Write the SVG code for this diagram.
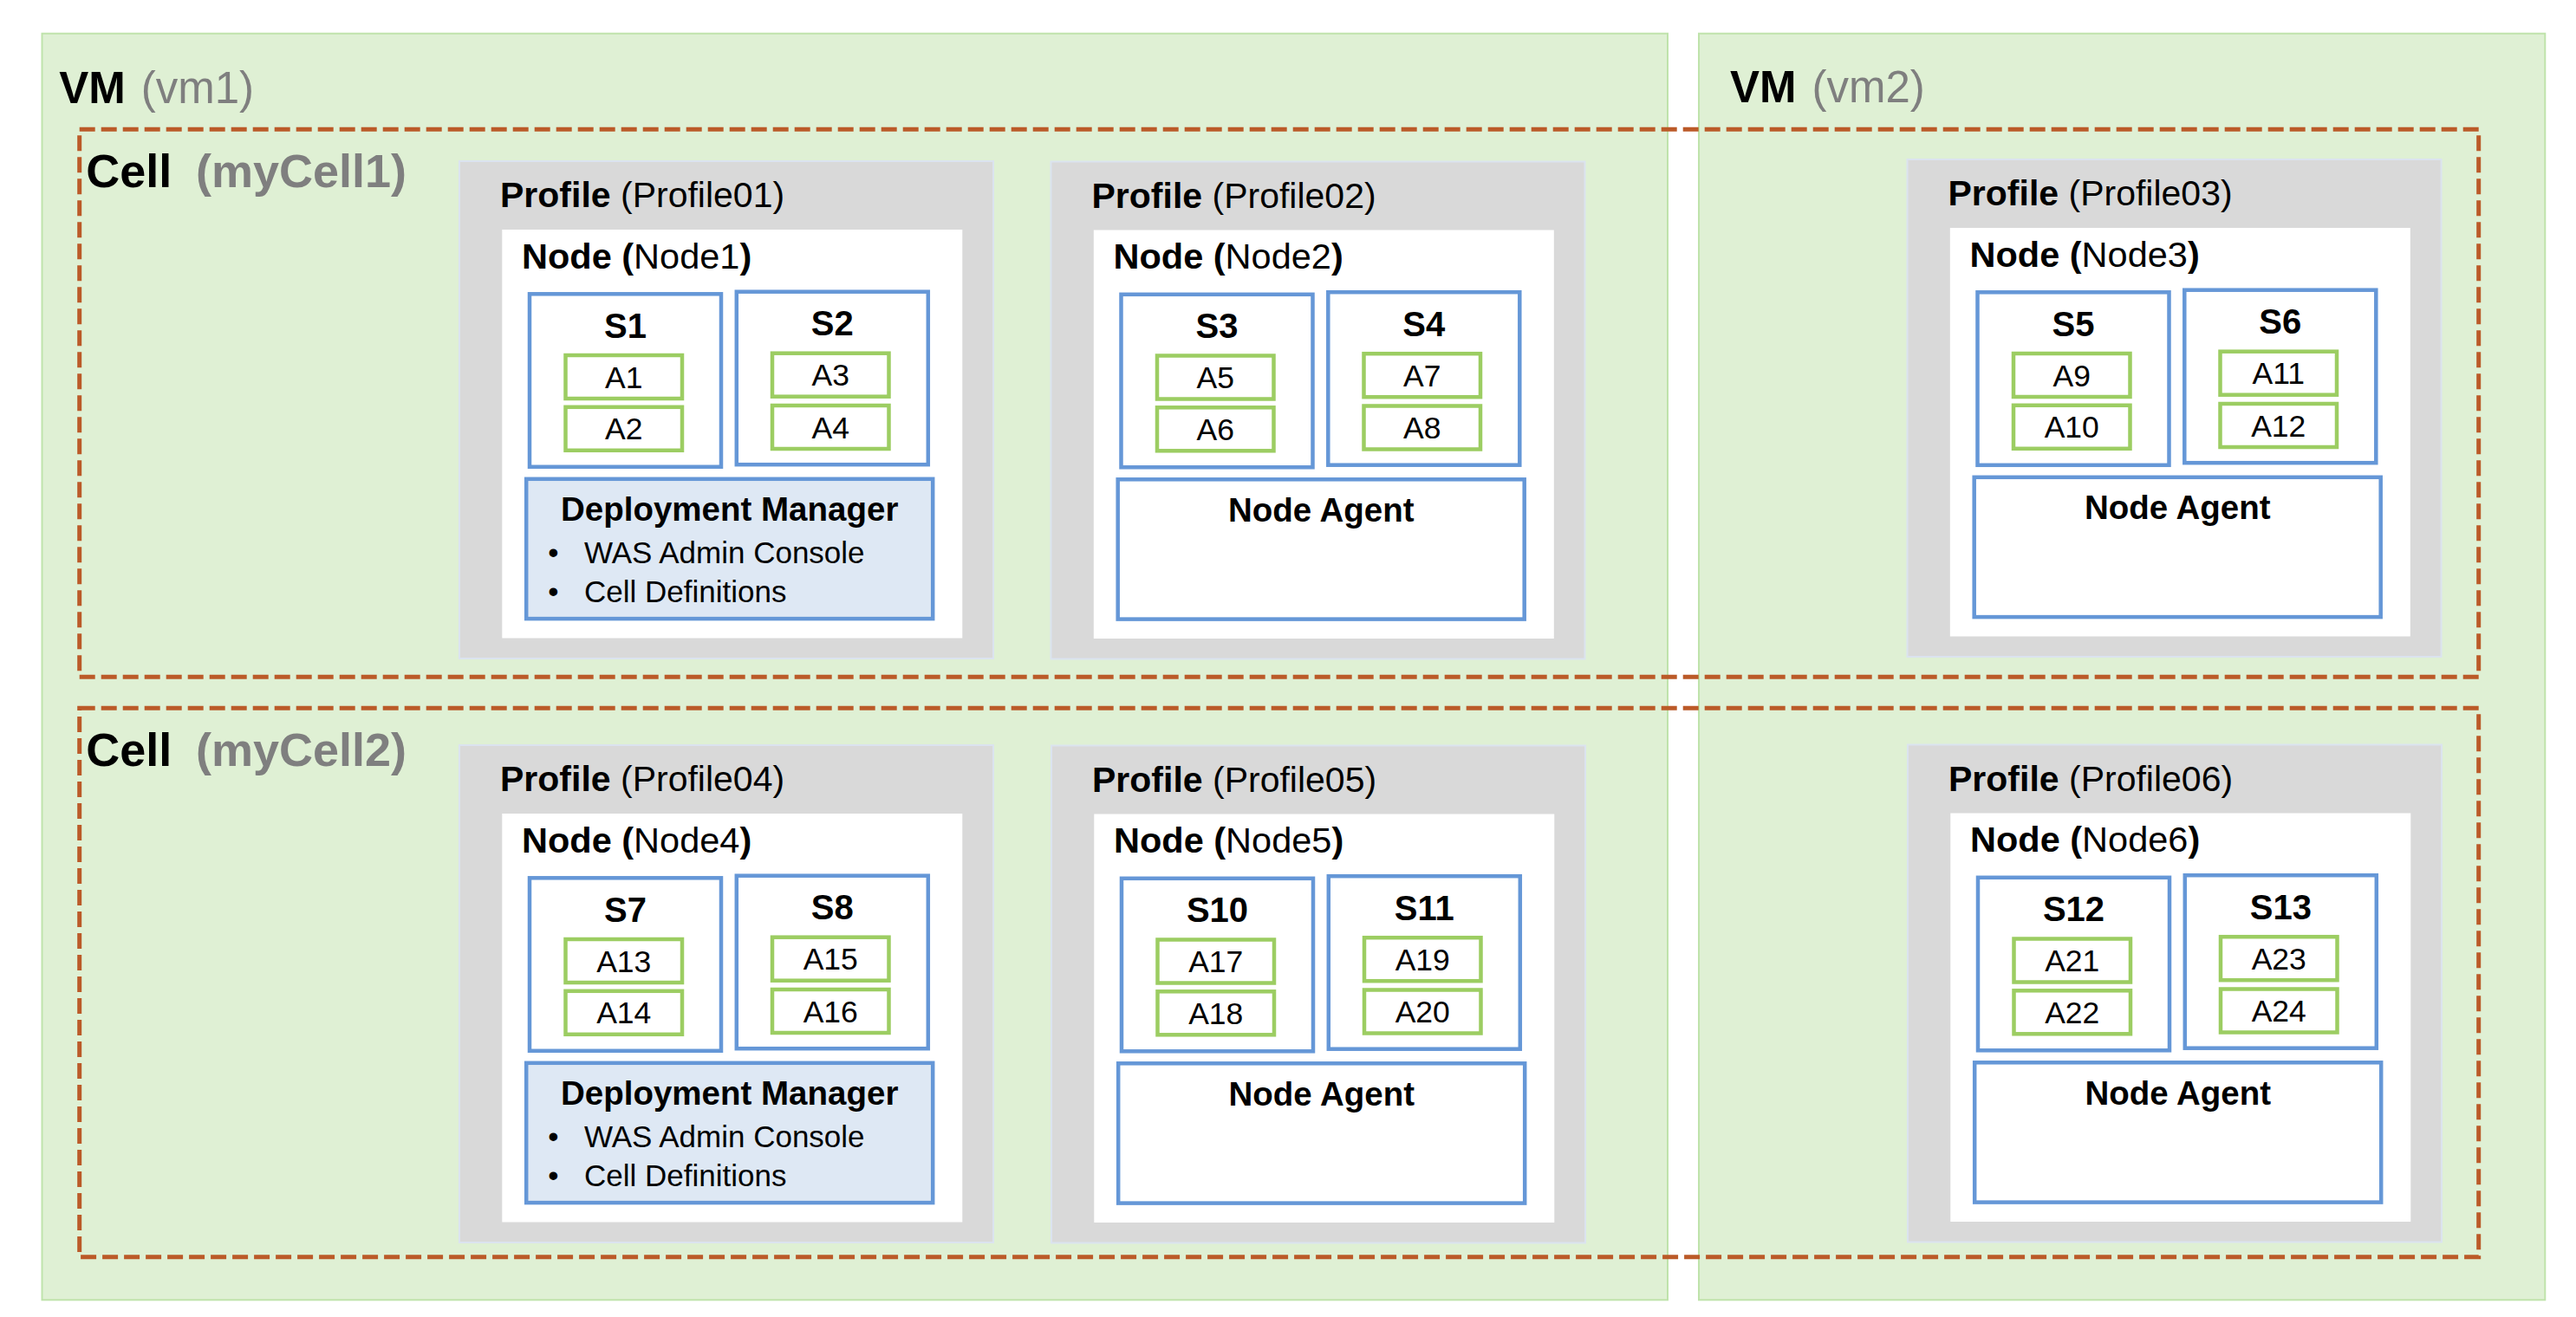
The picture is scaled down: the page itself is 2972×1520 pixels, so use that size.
<svg xmlns="http://www.w3.org/2000/svg" width="2972" height="1520" viewBox="0 0 2972 1520">
<style>
.vm{fill:#dff0d4;stroke:#bfe3ab;stroke-width:2}
.cell{fill:none;stroke:#bb5a28;stroke-width:5;stroke-dasharray:18 7}
.prof{fill:#d9d9d9;stroke:#dbe3ef;stroke-width:2}
.node{fill:#ffffff}
.srv{fill:#ffffff;stroke:#6597d7;stroke-width:4.5}
.app{fill:#ffffff;stroke:#9ccd62;stroke-width:4.5}
.dm{fill:#dee8f4;stroke:#6597d7;stroke-width:4.5}
.na{fill:#ffffff;stroke:#6597d7;stroke-width:4.5}
text{font-family:"Liberation Sans",Arial,sans-serif;fill:#000000}
.gray{fill:#7f7f7f}
.b{font-weight:bold}
.t-vm{font-size:51px}
.t-cell{font-size:54px;font-weight:bold}
.t-prof{font-size:41px}
.t-node{font-size:41.5px}
.t-s{font-size:40px;font-weight:bold;text-anchor:middle}
.t-a{font-size:35.5px;text-anchor:middle}
.t-box{font-size:38.5px;font-weight:bold;text-anchor:middle}
.t-li{font-size:35px}
.t-bul{font-size:35px;text-anchor:middle}
</style>

<g id="vm1">
  <rect class="vm" x="48.5" y="38.7" width="1875.5" height="1461.6"/>
  <text class="t-vm" y="119"><tspan class="b" x="68.3">VM</tspan><tspan class="gray" x="162.7">(vm1)</tspan></text>
</g>
<g id="vm2">
  <rect class="vm" x="1960" y="38.7" width="976.3" height="1461.6"/>
  <text class="t-vm" y="118"><tspan class="b" x="1996">VM</tspan><tspan class="gray" x="2090.5">(vm2)</tspan></text>
</g>

<g id="cell1">
  <rect class="cell" x="91.7" y="149.3" width="2768" height="632"/>
  <text class="t-cell" y="215.7"><tspan x="99.3">Cell</tspan><tspan class="gray" x="226">(myCell1)</tspan></text>
</g>
<g id="cell2">
  <rect class="cell" x="91.7" y="817.3" width="2768" height="633.4"/>
  <text class="t-cell" y="883.6"><tspan x="99.3">Cell</tspan><tspan class="gray" x="226">(myCell2)</tspan></text>
</g>

<!-- Profile01 -->
<g id="profile01" transform="translate(530,186)">
  <rect class="prof" x="0" y="0" width="616" height="574"/>
  <text class="t-prof" x="47" y="53"><tspan class="b">Profile</tspan> (Profile01)</text>
  <g id="node1">
    <rect class="node" x="49.3" y="79" width="531" height="471.5"/>
    <text class="t-node" x="72" y="123.5"><tspan class="b">Node (</tspan>Node1<tspan class="b">)</tspan></text>
    <g id="s1">
      <rect class="srv" x="81" y="153.3" width="221" height="199.5"/>
      <text class="t-s" x="191.5" y="203.5">S1</text>
      <g id="a1"><rect class="app" x="122.5" y="224" width="134.5" height="50"/><text class="t-a" x="189.75" y="261.5">A1</text></g>
      <g id="a2"><rect class="app" x="122.5" y="283.8" width="134.5" height="50"/><text class="t-a" x="189.75" y="321.3">A2</text></g>
    </g>
    <g id="s2">
      <rect class="srv" x="319.8" y="150.7" width="221" height="199.5"/>
      <text class="t-s" x="430.3" y="201">S2</text>
      <g id="a3"><rect class="app" x="361" y="221.7" width="134.5" height="50"/><text class="t-a" x="428.25" y="259.2">A3</text></g>
      <g id="a4"><rect class="app" x="361" y="282" width="134.5" height="50"/><text class="t-a" x="428.25" y="319.5">A4</text></g>
    </g>
    <g id="dm1">
      <rect class="dm" x="77.2" y="366.8" width="469" height="161.3"/>
      <text class="t-box" x="311.7" y="415">Deployment Manager</text>
      <text class="t-bul" x="108.4" y="463.5">•</text>
      <text class="t-li" x="144" y="463.5">WAS Admin Console</text>
      <text class="t-bul" x="108.4" y="509">•</text>
      <text class="t-li" x="144" y="509">Cell Definitions</text>
    </g>
  </g>
</g>

<!-- Profile02 -->
<g id="profile02" transform="translate(1212.5,186.5)">
  <rect class="prof" x="0" y="0" width="616" height="574"/>
  <text class="t-prof" x="47" y="53"><tspan class="b">Profile</tspan> (Profile02)</text>
  <g id="node2">
    <rect class="node" x="49.3" y="79" width="531" height="471.5"/>
    <text class="t-node" x="72" y="123.5"><tspan class="b">Node (</tspan>Node2<tspan class="b">)</tspan></text>
    <g id="s3">
      <rect class="srv" x="81" y="153.3" width="221" height="199.5"/>
      <text class="t-s" x="191.5" y="203.5">S3</text>
      <g id="a5"><rect class="app" x="122.5" y="224" width="134.5" height="50"/><text class="t-a" x="189.75" y="261.5">A5</text></g>
      <g id="a6"><rect class="app" x="122.5" y="283.8" width="134.5" height="50"/><text class="t-a" x="189.75" y="321.3">A6</text></g>
    </g>
    <g id="s4">
      <rect class="srv" x="319.8" y="150.7" width="221" height="199.5"/>
      <text class="t-s" x="430.3" y="201">S4</text>
      <g id="a7"><rect class="app" x="361" y="221.7" width="134.5" height="50"/><text class="t-a" x="428.25" y="259.2">A7</text></g>
      <g id="a8"><rect class="app" x="361" y="282" width="134.5" height="50"/><text class="t-a" x="428.25" y="319.5">A8</text></g>
    </g>
    <g id="na2">
      <rect class="na" x="77.2" y="366.8" width="469" height="161.3"/>
      <text class="t-box" x="311.7" y="415">Node Agent</text>
    </g>
  </g>
</g>

<!-- Profile03 -->
<g id="profile03" transform="translate(2200.5,184)">
  <rect class="prof" x="0" y="0" width="616" height="574"/>
  <text class="t-prof" x="47" y="53"><tspan class="b">Profile</tspan> (Profile03)</text>
  <g id="node3">
    <rect class="node" x="49.3" y="79" width="531" height="471.5"/>
    <text class="t-node" x="72" y="123.5"><tspan class="b">Node (</tspan>Node3<tspan class="b">)</tspan></text>
    <g id="s5">
      <rect class="srv" x="81" y="153.3" width="221" height="199.5"/>
      <text class="t-s" x="191.5" y="203.5">S5</text>
      <g id="a9"><rect class="app" x="122.5" y="224" width="134.5" height="50"/><text class="t-a" x="189.75" y="261.5">A9</text></g>
      <g id="a10"><rect class="app" x="122.5" y="283.8" width="134.5" height="50"/><text class="t-a" x="189.75" y="321.3">A10</text></g>
    </g>
    <g id="s6">
      <rect class="srv" x="319.8" y="150.7" width="221" height="199.5"/>
      <text class="t-s" x="430.3" y="201">S6</text>
      <g id="a11"><rect class="app" x="361" y="221.7" width="134.5" height="50"/><text class="t-a" x="428.25" y="259.2">A11</text></g>
      <g id="a12"><rect class="app" x="361" y="282" width="134.5" height="50"/><text class="t-a" x="428.25" y="319.5">A12</text></g>
    </g>
    <g id="na3">
      <rect class="na" x="77.2" y="366.8" width="469" height="161.3"/>
      <text class="t-box" x="311.7" y="415">Node Agent</text>
    </g>
  </g>
</g>

<!-- Profile04 -->
<g id="profile04" transform="translate(530,860)">
  <rect class="prof" x="0" y="0" width="616" height="574"/>
  <text class="t-prof" x="47" y="53"><tspan class="b">Profile</tspan> (Profile04)</text>
  <g id="node4">
    <rect class="node" x="49.3" y="79" width="531" height="471.5"/>
    <text class="t-node" x="72" y="123.5"><tspan class="b">Node (</tspan>Node4<tspan class="b">)</tspan></text>
    <g id="s7">
      <rect class="srv" x="81" y="153.3" width="221" height="199.5"/>
      <text class="t-s" x="191.5" y="203.5">S7</text>
      <g id="a13"><rect class="app" x="122.5" y="224" width="134.5" height="50"/><text class="t-a" x="189.75" y="261.5">A13</text></g>
      <g id="a14"><rect class="app" x="122.5" y="283.8" width="134.5" height="50"/><text class="t-a" x="189.75" y="321.3">A14</text></g>
    </g>
    <g id="s8">
      <rect class="srv" x="319.8" y="150.7" width="221" height="199.5"/>
      <text class="t-s" x="430.3" y="201">S8</text>
      <g id="a15"><rect class="app" x="361" y="221.7" width="134.5" height="50"/><text class="t-a" x="428.25" y="259.2">A15</text></g>
      <g id="a16"><rect class="app" x="361" y="282" width="134.5" height="50"/><text class="t-a" x="428.25" y="319.5">A16</text></g>
    </g>
    <g id="dm4">
      <rect class="dm" x="77.2" y="366.8" width="469" height="161.3"/>
      <text class="t-box" x="311.7" y="415">Deployment Manager</text>
      <text class="t-bul" x="108.4" y="463.5">•</text>
      <text class="t-li" x="144" y="463.5">WAS Admin Console</text>
      <text class="t-bul" x="108.4" y="509">•</text>
      <text class="t-li" x="144" y="509">Cell Definitions</text>
    </g>
  </g>
</g>

<!-- Profile05 -->
<g id="profile05" transform="translate(1213,860.5)">
  <rect class="prof" x="0" y="0" width="616" height="574"/>
  <text class="t-prof" x="47" y="53"><tspan class="b">Profile</tspan> (Profile05)</text>
  <g id="node5">
    <rect class="node" x="49.3" y="79" width="531" height="471.5"/>
    <text class="t-node" x="72" y="123.5"><tspan class="b">Node (</tspan>Node5<tspan class="b">)</tspan></text>
    <g id="s10">
      <rect class="srv" x="81" y="153.3" width="221" height="199.5"/>
      <text class="t-s" x="191.5" y="203.5">S10</text>
      <g id="a17"><rect class="app" x="122.5" y="224" width="134.5" height="50"/><text class="t-a" x="189.75" y="261.5">A17</text></g>
      <g id="a18"><rect class="app" x="122.5" y="283.8" width="134.5" height="50"/><text class="t-a" x="189.75" y="321.3">A18</text></g>
    </g>
    <g id="s11">
      <rect class="srv" x="319.8" y="150.7" width="221" height="199.5"/>
      <text class="t-s" x="430.3" y="201">S11</text>
      <g id="a19"><rect class="app" x="361" y="221.7" width="134.5" height="50"/><text class="t-a" x="428.25" y="259.2">A19</text></g>
      <g id="a20"><rect class="app" x="361" y="282" width="134.5" height="50"/><text class="t-a" x="428.25" y="319.5">A20</text></g>
    </g>
    <g id="na5">
      <rect class="na" x="77.2" y="366.8" width="469" height="161.3"/>
      <text class="t-box" x="311.7" y="415">Node Agent</text>
    </g>
  </g>
</g>

<!-- Profile06 -->
<g id="profile06" transform="translate(2201,859.5)">
  <rect class="prof" x="0" y="0" width="616" height="574"/>
  <text class="t-prof" x="47" y="53"><tspan class="b">Profile</tspan> (Profile06)</text>
  <g id="node6">
    <rect class="node" x="49.3" y="79" width="531" height="471.5"/>
    <text class="t-node" x="72" y="123.5"><tspan class="b">Node (</tspan>Node6<tspan class="b">)</tspan></text>
    <g id="s12">
      <rect class="srv" x="81" y="153.3" width="221" height="199.5"/>
      <text class="t-s" x="191.5" y="203.5">S12</text>
      <g id="a21"><rect class="app" x="122.5" y="224" width="134.5" height="50"/><text class="t-a" x="189.75" y="261.5">A21</text></g>
      <g id="a22"><rect class="app" x="122.5" y="283.8" width="134.5" height="50"/><text class="t-a" x="189.75" y="321.3">A22</text></g>
    </g>
    <g id="s13">
      <rect class="srv" x="319.8" y="150.7" width="221" height="199.5"/>
      <text class="t-s" x="430.3" y="201">S13</text>
      <g id="a23"><rect class="app" x="361" y="221.7" width="134.5" height="50"/><text class="t-a" x="428.25" y="259.2">A23</text></g>
      <g id="a24"><rect class="app" x="361" y="282" width="134.5" height="50"/><text class="t-a" x="428.25" y="319.5">A24</text></g>
    </g>
    <g id="na6">
      <rect class="na" x="77.2" y="366.8" width="469" height="161.3"/>
      <text class="t-box" x="311.7" y="415">Node Agent</text>
    </g>
  </g>
</g>

<g id="connectors"/>
</svg>
